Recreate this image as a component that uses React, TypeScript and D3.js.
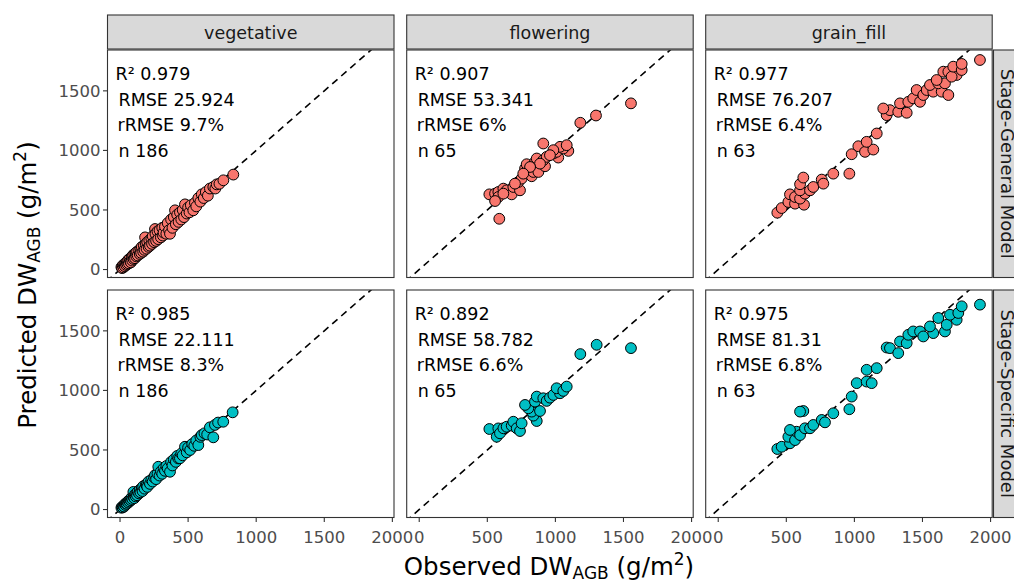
import React from "react";
import * as d3 from "d3";

const stages = ["vegetative", "flowering", "grain_fill"];
const models = ["Stage-General Model", "Stage-Specific Model"];
const xTicks = [0, 500, 1000, 1500, 2000];
const yTicks = [0, 500, 1000, 1500];
const colors = ["#F8766D", "#00BFC4"];

// stats [model][stage]
const statR2 = [["0.979", "0.907", "0.977"], ["0.985", "0.892", "0.975"]];
const statRMSE = [["25.924", "53.341", "76.207"], ["22.111", "58.782", "81.31"]];
const statRRMSE = [["9.7%", "6%", "6.4%"], ["8.3%", "6.6%", "6.8%"]];
const statN = [["186", "65", "63"], ["186", "65", "63"]];

const vegGen: [number, number][] = [
  [10,20],[15,12],[20,35],[25,18],[30,40],[35,28],[40,55],[45,38],[50,62],[55,45],[60,80],[65,52],[70,90],[75,70],[80,60],[85,105],[90,75],[95,120],[100,88],[105,130],[110,95],[115,140],[120,110],[125,150],[130,118],[140,160],[145,130],[150,175],[155,140],[160,190],[170,150],[175,200],[180,165],[184,270],[190,215],[195,175],[200,230],[210,190],[215,245],[220,200],[230,260],[235,215],[240,280],[250,230],[257,340],[260,300],[265,240],[275,320],[280,255],[290,330],[300,270],[310,350],[315,285],[320,310],[330,360],[340,300],[350,390],[360,330],[367,300],[375,420],[385,350],[395,440],[404,497],[410,380],[420,460],[430,400],[440,480],[450,420],[460,500],[470,440],[477,547],[490,470],[500,520],[510,480],[520,540],[538,497],[550,560],[560,530],[575,600],[590,570],[600,631],[615,600],[630,650],[645,620],[660,680],[685,693],[700,680],[710,715],[730,720],[759,749],[832,797]
];
const vegSpec: [number, number][] = [
  [10,15],[15,22],[20,18],[25,30],[30,25],[35,45],[40,38],[45,50],[50,48],[55,65],[60,58],[65,75],[70,68],[75,85],[80,78],[85,100],[90,88],[98,148],[100,105],[105,95],[110,125],[115,110],[120,135],[125,120],[130,150],[140,135],[145,165],[150,145],[160,180],[165,155],[170,195],[180,175],[190,210],[196,205],[200,190],[210,235],[220,215],[230,250],[240,235],[250,270],[257,289],[265,255],[275,300],[281,359],[290,285],[300,320],[310,300],[320,345],[330,325],[340,365],[350,345],[367,317],[375,400],[385,370],[395,420],[410,400],[420,450],[428,429],[440,430],[450,470],[460,455],[477,527],[490,480],[500,520],[515,500],[530,550],[545,535],[560,580],[575,541],[590,610],[600,625],[620,640],[640,630],[660,690],[685,606],[697,710],[720,730],[758,737],[827,816]
];
const floGen: [number, number][] = [
  [588,426],[515,631],[557,637],[581,651],[581,609],[557,575],[618,679],[642,665],[679,631],[691,693],[740,665],[728,735],[752,763],[826,783],[838,819],[875,819],[777,847],[789,884],[850,903],[863,932],[924,867],[911,918],[936,946],[1021,940],[985,974],[1009,988],[1095,996],[1058,1016],[1034,1030],[985,1002],[960,960],[887,889],[814,861],[764,805],[703,721],[618,637],[911,1058],[1083,1044],[1183,1232],[1298,1293],[1555,1395]
];
const floSpec: [number, number][] = [
  [515,676],[569,611],[581,681],[593,640],[618,682],[642,695],[679,704],[691,737],[716,682],[740,659],[752,724],[863,743],[838,788],[826,822],[887,827],[801,850],[777,878],[850,906],[863,948],[911,934],[936,912],[960,939],[985,962],[1034,976],[1009,1018],[1058,996],[1083,1032],[1183,1305],[1303,1383],[1555,1355]
];
const grnGen: [number, number][] = [
  [434,477],[466,516],[515,567],[564,553],[630,544],[527,631],[564,609],[601,595],[637,637],[601,665],[601,716],[625,772],[674,665],[698,693],[760,755],[772,721],[845,805],[963,805],[980,968],[1029,1035],[1078,988],[1139,1007],[1090,1072],[1164,1142],[1237,1296],[1261,1338],[1212,1352],[1322,1324],[1384,1316],[1335,1395],[1396,1408],[1432,1437],[1482,1408],[1457,1507],[1506,1465],[1531,1507],[1579,1493],[1555,1549],[1641,1493],[1690,1465],[1616,1563],[1665,1563],[1604,1591],[1653,1661],[1690,1661],[1751,1633],[1714,1619],[1726,1703],[1788,1675],[1788,1726],[1922,1759]
];
const grnSpec: [number, number][] = [
  [434,508],[466,527],[527,556],[515,611],[564,583],[576,653],[527,668],[601,625],[637,682],[674,682],[698,710],[625,827],[601,822],[760,752],[784,732],[845,808],[963,842],[980,948],[1017,1061],[1090,1074],[1127,1061],[1090,1173],[1164,1187],[1237,1360],[1261,1355],[1322,1313],[1335,1411],[1384,1397],[1396,1467],[1432,1495],[1482,1495],[1506,1453],[1579,1481],[1555,1537],[1665,1495],[1678,1551],[1616,1608],[1751,1593],[1702,1635],[1763,1650],[1788,1706],[1922,1720]
];
const data = [[vegGen, floGen, grnGen], [vegSpec, floSpec, grnSpec]];

const W = 1014, H = 581;
const colLeft = [107.5, 406.7, 705.7];
const rowTop = [50, 290];
const PW = 286.5, PH = 227.5;
const font = "'DejaVu Sans', sans-serif";

export default function App() {
  const panels: React.ReactNode[] = [];
  models.forEach((m, r) => {
    stages.forEach((s, c) => {
      const x = d3.scaleLinear().domain([-92, 2012]).range([colLeft[c], colLeft[c] + PW]);
      const y = d3.scaleLinear().domain([-67, 1843]).range([rowTop[r] + PH, rowTop[r]]);
      const id = `clip-${r}-${c}`;
      const line = d3.line<[number, number]>().x(d => x(d[0])).y(d => y(d[1]));
      const lx = colLeft[c];
      const ty = rowTop[r];
      panels.push(
        <g key={id}>
          <defs>
            <clipPath id={id}>
              <rect x={lx} y={ty} width={PW} height={PH} />
            </clipPath>
          </defs>
          <rect x={lx} y={ty} width={PW} height={PH} fill="#fff" />
          <path d={line([[-100, -100], [2100, 2100]]) || ""} stroke="#000" strokeWidth={1.6}
            strokeDasharray="7,5" fill="none" clipPath={`url(#${id})`} />
          <g clipPath={`url(#${id})`}>
            {data[r][c].map((d, i) => (
              <circle key={i} cx={x(d[0])} cy={y(d[1])} r={5.4} fill={colors[r]} stroke="#000" strokeWidth={1} />
            ))}
          </g>
          <rect x={lx} y={ty} width={PW} height={PH} fill="none" stroke="#333" strokeWidth={1.1} />
          <g fontFamily={font} fontSize={17.5} fill="#000">
            <text x={lx + 8} y={ty + 30}>{`R² ${statR2[r][c]}`}</text>
            <text x={lx + 11} y={ty + 55.7}>{`RMSE ${statRMSE[r][c]}`}</text>
            <text x={lx + 10} y={ty + 81}>{`rRMSE ${statRRMSE[r][c]}`}</text>
            <text x={lx + 11} y={ty + 106.7}>{`n ${statN[r][c]}`}</text>
          </g>
          {c === 0 && yTicks.map(t => (
            <g key={"y" + t}>
              <line x1={lx - 4.5} x2={lx} y1={y(t)} y2={y(t)} stroke="#333" strokeWidth={1.1} />
              <text x={lx - 7} y={y(t)} dy="0.36em" textAnchor="end" fontFamily={font} fontSize={16.5} fill="#4D4D4D">{t}</text>
            </g>
          ))}
          {r === 1 && xTicks.map(t => (
            <g key={"x" + t}>
              <line x1={x(t)} x2={x(t)} y1={ty + PH} y2={ty + PH + 4.5} stroke="#333" strokeWidth={1.1} />
              <text x={x(t)} y={543} textAnchor="middle" fontFamily={font} fontSize={16.5} fill="#4D4D4D">{t}</text>
            </g>
          ))}
        </g>
      );
    });
  });

  return (
    <div style={{ position: "absolute", left: 0, top: 0 }}>
      <svg width={W} height={H} viewBox={`0 0 ${W} ${H}`} style={{ display: "block" }}>
        <rect width={W} height={H} fill="#fff" />
        {stages.map((s, c) => (
          <g key={s}>
            <rect x={colLeft[c]} y={15} width={PW} height={34} fill="#D9D9D9" stroke="#333" strokeWidth={1.1} />
            <text x={colLeft[c] + PW / 2} y={39} textAnchor="middle" fontFamily={font} fontSize={17.5} fill="#1A1A1A">{s}</text>
          </g>
        ))}
        {models.map((m, r) => (
          <g key={m}>
            <rect x={993.5} y={rowTop[r]} width={34} height={PH} fill="#D9D9D9" stroke="#333" strokeWidth={1.1} />
            <text transform={`translate(1001,${rowTop[r] + PH / 2}) rotate(90)`} textAnchor="middle"
              fontFamily={font} fontSize={18} fill="#1A1A1A">{m}</text>
          </g>
        ))}
        {panels}
        <text x={549} y={575} textAnchor="middle" fontFamily={font} fontSize={24.5} fill="#000">
          Observed DW<tspan fontSize={17} dy={4}>AGB</tspan><tspan dy={-4}> (g/m</tspan><tspan fontSize={17} dy={-10}>2</tspan><tspan dy={10}>)</tspan>
        </text>
        <text transform={`translate(36,285) rotate(-90)`} textAnchor="middle" fontFamily={font} fontSize={24.5} fill="#000">
          Predicted DW<tspan fontSize={17} dy={4}>AGB</tspan><tspan dy={-4}> (g/m</tspan><tspan fontSize={17} dy={-10}>2</tspan><tspan dy={10}>)</tspan>
        </text>
      </svg>
    </div>
  );
}
